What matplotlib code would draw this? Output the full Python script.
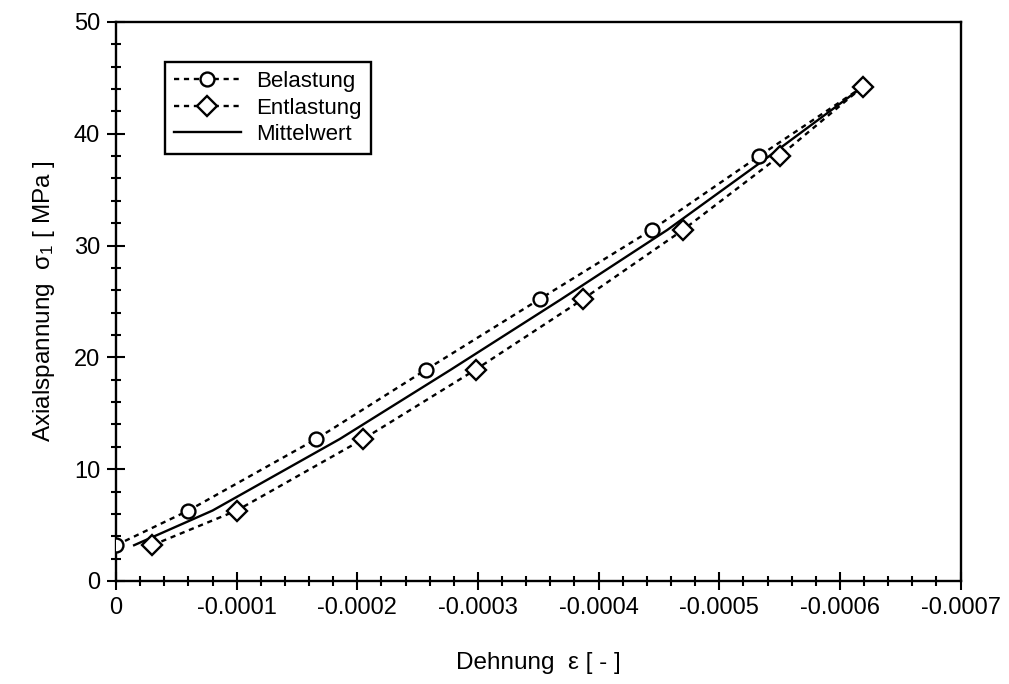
import numpy as np
import matplotlib
matplotlib.use("Agg")
import matplotlib.pyplot as plt
from matplotlib.ticker import MultipleLocator, FuncFormatter

plt.rcParams['font.family'] = ['Liberation Sans', 'DejaVu Sans']
plt.rcParams['mathtext.fontset'] = 'custom'
plt.rcParams['mathtext.rm'] = 'Liberation Sans'
plt.rcParams['mathtext.it'] = 'Liberation Sans'

# stress levels [MPa]
sigma_bel = [3.2, 6.3, 12.7, 18.9, 25.2, 31.4, 38.0, 44.2]
sigma_ent = [3.2, 6.3, 12.7, 18.9, 25.2, 31.4, 38.0, 44.2]
sigma_mit = [3.2, 6.3, 12.7, 18.9, 25.2, 31.4, 38.0, 44.2]

# strain [-]
eps_bel = [0.0, -0.00006, -0.000166, -0.000257, -0.000351, -0.000444, -0.000533, -0.000619]
eps_ent = [-0.00003, -0.0001, -0.000205, -0.000298, -0.000387, -0.00047, -0.00055, -0.000619]
eps_mit = [-0.000015, -0.00008, -0.0001855, -0.0002775, -0.000369, -0.000457, -0.0005415, -0.000619]

xticks = [0, -0.0001, -0.0002, -0.0003, -0.0004, -0.0005, -0.0006, -0.0007]

fig = plt.figure(figsize=(10.09, 6.84), dpi=100)
ax = fig.add_axes([0.115, 0.1506, 0.837, 0.8174])

dots = (0, (2.2, 2.0))
ax.plot(eps_bel, sigma_bel, color='black', linestyle=dots, linewidth=1.7,
        marker='o', markersize=10, markerfacecolor='white', markeredgewidth=1.7,
        markevery=list(range(len(eps_bel) - 1)), label='Belastung', zorder=3)
ax.plot(eps_ent, sigma_ent, color='black', linestyle=dots, linewidth=1.7,
        marker='D', markersize=10, markerfacecolor='white', markeredgewidth=1.7,
        label='Entlastung', zorder=4)
ax.plot(eps_mit, sigma_mit, color='black', linestyle='-', linewidth=1.7,
        label='Mittelwert', zorder=2)

ax.set_xlim(0, -0.0007)
ax.set_ylim(0, 50)
ax.set_xticks(xticks)
ax.xaxis.set_major_formatter(FuncFormatter(lambda v, p: '0' if abs(v) < 1e-12 else '%.4f' % v))
ax.xaxis.set_minor_locator(MultipleLocator(0.00002))
ax.yaxis.set_major_locator(MultipleLocator(10))
ax.yaxis.set_minor_locator(MultipleLocator(2))

ax.tick_params(which='both', direction='inout', top=False, right=False,
               labelsize=17, width=1.5, pad=5)
ax.tick_params(which='major', length=13)
ax.tick_params(which='minor', length=7)
for s in ax.spines.values():
    s.set_linewidth(1.7)

ax.set_xlabel('Dehnung  ε [ - ]', fontsize=17.5, labelpad=24)
ax.set_ylabel(r'Axialspannung  σ$_1$ [ MPa ]', fontsize=17.5, labelpad=12)

leg = ax.legend(loc='upper left', bbox_to_anchor=(0.058, 0.928), fontsize=16,
                handlelength=3.0, handletextpad=0.7, labelspacing=0.25,
                borderpad=0.4, borderaxespad=0, fancybox=False, framealpha=1,
                edgecolor='black')
leg.get_frame().set_linewidth(1.7)

fig.savefig('out.png', dpi=100)
